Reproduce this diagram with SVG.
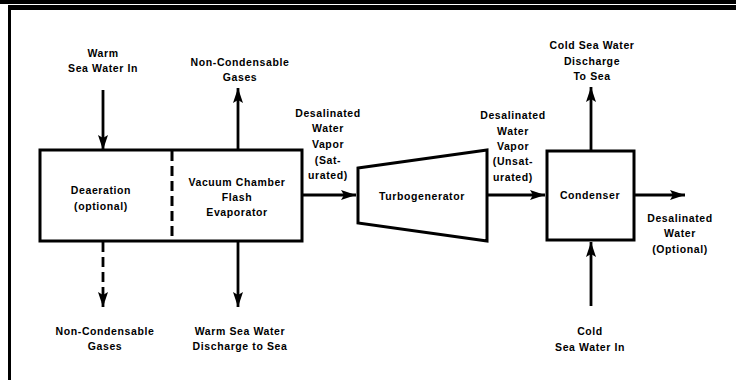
<svg xmlns="http://www.w3.org/2000/svg" width="736" height="380" viewBox="0 0 736 380">
<style>
.t{font-family:"Liberation Sans",Arial,sans-serif;font-size:10.5px;font-weight:bold;letter-spacing:0.6px;text-anchor:middle;fill:#000}
.box{fill:#fff;stroke:#000;stroke-width:3;stroke-linejoin:miter}
.ln{stroke:#000;stroke-width:2.8;fill:none}
.dash{stroke-dasharray:10,5}
</style>
<defs>
<marker id="ah" markerUnits="userSpaceOnUse" markerWidth="16" markerHeight="11" refX="15" refY="5.5" orient="auto">
<path d="M0,0.5 L15,5.5 L0,10.5 L3,5.5 z" fill="#000"/>
</marker>
</defs>
<rect width="736" height="380" fill="#fff"/>
<g id="frame">
<rect x="0" y="0" width="736" height="4" fill="#000"/>
<rect x="8" y="5" width="728" height="5" fill="#000"/>
<rect x="8" y="5" width="3" height="375" fill="#000"/>
</g>
<g id="evaporator">
<rect class="box" x="40" y="150" width="262" height="91"/>
<line class="ln dash" x1="172" y1="151" x2="172" y2="240" style="stroke-width:3"/>
<text class="t" x="101" y="194">Deaeration</text>
<text class="t" x="101" y="210">(optional)</text>
<text class="t" x="237" y="186">Vacuum Chamber</text>
<text class="t" x="237" y="201">Flash</text>
<text class="t" x="237" y="216">Evaporator</text>
</g>
<g id="turbogenerator">
<path class="box" d="M358,168 L487,150 L487,241 L358,223 Z"/>
<text class="t" x="422" y="200">Turbogenerator</text>
</g>
<g id="condenser">
<rect class="box" x="547" y="151" width="87" height="89"/>
<text class="t" x="590" y="199">Condenser</text>
</g>
<g id="connectors">
<line class="ln" x1="103" y1="90" x2="103" y2="150" marker-end="url(#ah)"/>
<line class="ln" x1="238" y1="150" x2="238" y2="88" marker-end="url(#ah)"/>
<line class="ln dash" x1="103" y1="242" x2="103" y2="307" marker-end="url(#ah)"/>
<line class="ln" x1="238" y1="242" x2="238" y2="307" marker-end="url(#ah)"/>
<line class="ln" x1="302" y1="195" x2="356" y2="195" marker-end="url(#ah)"/>
<line class="ln" x1="487" y1="195" x2="545" y2="195" marker-end="url(#ah)"/>
<line class="ln" x1="591" y1="150" x2="591" y2="87" marker-end="url(#ah)"/>
<line class="ln" x1="634" y1="195" x2="685" y2="195" marker-end="url(#ah)"/>
<line class="ln" x1="591" y1="306" x2="591" y2="242" marker-end="url(#ah)"/>
</g>
<g id="labels">
<text class="t" x="103" y="57">Warm</text>
<text class="t" x="103" y="72">Sea Water In</text>
<text class="t" x="240" y="66">Non-Condensable</text>
<text class="t" x="240" y="81">Gases</text>
<text class="t" x="105" y="335">Non-Condensable</text>
<text class="t" x="105" y="350">Gases</text>
<text class="t" x="240" y="335">Warm Sea Water</text>
<text class="t" x="240" y="350">Discharge to Sea</text>
<text class="t" x="328" y="117">Desalinated</text>
<text class="t" x="328" y="132">Water</text>
<text class="t" x="328" y="148">Vapor</text>
<text class="t" x="328" y="164">(Sat-</text>
<text class="t" x="328" y="179">urated)</text>
<text class="t" x="513" y="119">Desalinated</text>
<text class="t" x="513" y="135">Water</text>
<text class="t" x="513" y="150">Vapor</text>
<text class="t" x="513" y="165">(Unsat-</text>
<text class="t" x="513" y="181">urated)</text>
<text class="t" x="592" y="49">Cold Sea Water</text>
<text class="t" x="592" y="65">Discharge</text>
<text class="t" x="592" y="80">To Sea</text>
<text class="t" x="680" y="222">Desalinated</text>
<text class="t" x="680" y="237">Water</text>
<text class="t" x="680" y="253">(Optional)</text>
<text class="t" x="590" y="335">Cold</text>
<text class="t" x="590" y="351">Sea Water In</text>
</g>
</svg>
